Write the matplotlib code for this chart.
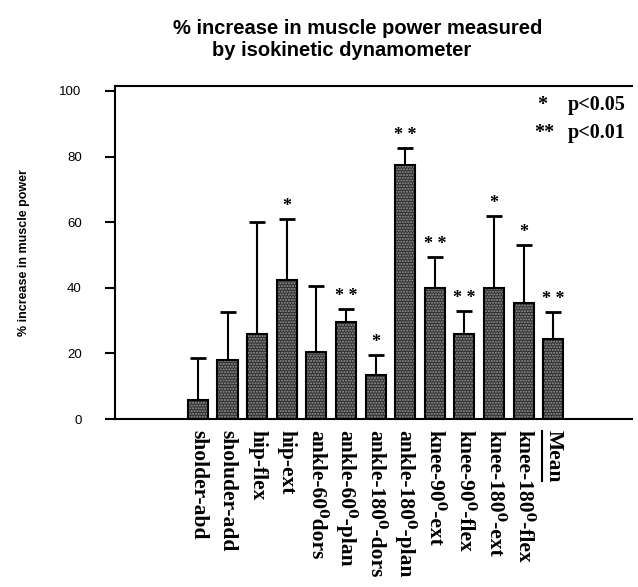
import matplotlib
matplotlib.use("Agg")
import matplotlib.pyplot as plt
from matplotlib.lines import Line2D

categories = ["sholder-abd", "sholuder-add", "hip-flex", "hip-ext",
              "ankle-60\u2070dors", "ankle-60\u2070-plan", "ankle-180\u2070-dors",
              "ankle-180\u2070-plan", "knee-90\u2070-ext", "knee-90\u2070-flex",
              "knee-180\u2070-ext", "knee-180\u2070-flex", "Mean"]
values = [5.8, 18, 26, 42.5, 20.5, 29.5, 13.5, 77.5, 40, 26, 40, 35.5, 24.5]
err_top = [18.5, 32.5, 60, 61, 40.5, 33.5, 19.5, 82.5, 49.5, 33, 62, 53, 32.5]
signif = ["", "", "", "*", "", "**", "*", "**", "**", "**", "*", "*", "**"]
yticks = [0, 20, 40, 60, 80, 100]

SERIF = ["Liberation Serif", "DejaVu Serif"]

fig = plt.figure(figsize=(6.38, 5.87), dpi=100)
ax = fig.add_axes([115/638, 1-419/587, (632-115)/638, (419-86)/587])

x = list(range(len(categories)))
upper = [e - v for e, v in zip(err_top, values)]

ax.errorbar(x, values, yerr=[[0]*len(x), upper], fmt="none", ecolor="black",
            elinewidth=1.5, capsize=6, capthick=2.0, zorder=1)
ax.bar(x, values, width=0.68, color="#2e2e2e", edgecolor="black", linewidth=1.2, zorder=2)
ax.bar(x, values, width=0.68, fill=False, hatch="......", edgecolor="#9a9a9a",
       linewidth=0, zorder=3)
ax.bar(x, values, width=0.68, fill=False, edgecolor="black", linewidth=1.5, zorder=4)

for xi, top, s in zip(x, err_top, signif):
    if s:
        ax.text(xi, top + 1.2, " ".join(s), ha="center", va="bottom",
                fontfamily=SERIF, fontweight="bold", fontsize=13)

ax.set_xlim(-2.8, 14.66)
ax.set_ylim(0, 101.5)
ax.set_yticks(yticks)
ax.set_yticklabels([str(t) for t in yticks], fontfamily="Liberation Sans", fontsize=9.5)
ax.tick_params(axis="y", direction="out", length=7, width=1.5, pad=17)
ax.set_xticks(x)
ax.set_xticklabels(categories, rotation=270, fontfamily=SERIF,
                   fontweight="bold", fontsize=15.5, va="top", ha="center")
ax.tick_params(axis="x", length=0, pad=8)
for sp in ["left", "bottom", "top"]:
    ax.spines[sp].set_linewidth(1.5)
ax.spines["right"].set_visible(False)

ax.set_ylabel("% increase in muscle power", fontfamily="Liberation Sans",
              fontweight="bold", fontsize=9, labelpad=21)

fig.text(358/638, 1-28/587, "% increase in muscle power measured", ha="center", va="center",
         fontfamily="Liberation Sans", fontweight="bold", fontsize=14.5)
fig.text(342/638, 1-50/587, "by isokinetic dynamometer", ha="center", va="center",
         fontfamily="Liberation Sans", fontweight="bold", fontsize=14.5)

fig.text(537/638, 1-105/587, "*", ha="left", va="center",
         fontfamily=SERIF, fontweight="bold", fontsize=14.5)
fig.text(568/638, 1-105/587, "p<0.05", ha="left", va="center",
         fontfamily=SERIF, fontweight="bold", fontsize=14.5)
fig.text(534/638, 1-133/587, "**", ha="left", va="center",
         fontfamily=SERIF, fontweight="bold", fontsize=14.5)
fig.text(568/638, 1-133/587, "p<0.01", ha="left", va="center",
         fontfamily=SERIF, fontweight="bold", fontsize=14.5)

# underline "Mean"
fig.canvas.draw()
r = fig.canvas.get_renderer()
lbl = ax.get_xticklabels()[-1]
bb = lbl.get_window_extent(r)
inv = fig.transFigure.inverted()
(x0, y0) = inv.transform((bb.x0 - 1, bb.y0))
(x1, y1) = inv.transform((bb.x0 - 1, bb.y1))
fig.add_artist(Line2D([x0, x0], [y0 + 0.002, y1 - 0.002], transform=fig.transFigure,
                      color="black", linewidth=1.5))

fig.savefig("out.png", dpi=100)
